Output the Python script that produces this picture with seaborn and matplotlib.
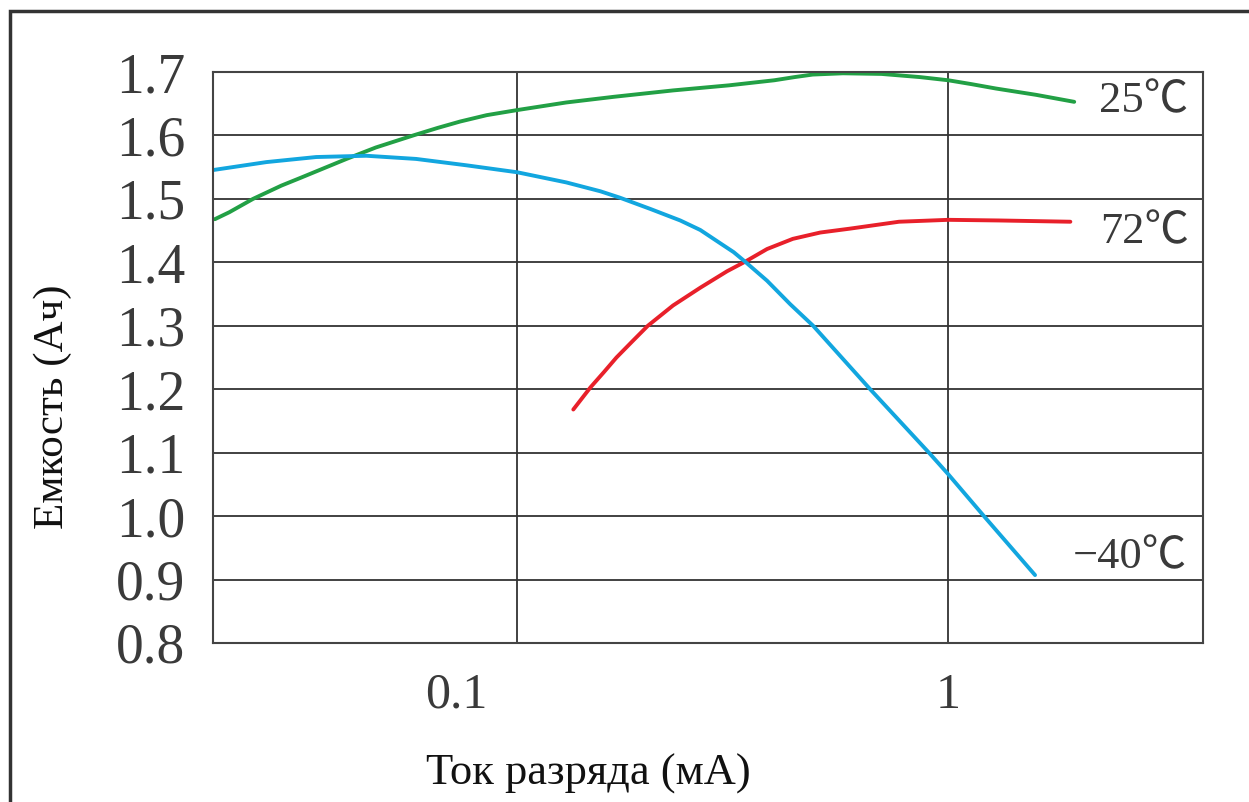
import numpy as np
import pandas as pd
import matplotlib
matplotlib.use('Agg')
import matplotlib.pyplot as plt
import matplotlib.transforms as mtransforms
from matplotlib.patches import Rectangle
import seaborn as sns

# curve values (x = discharge current, mA; y = capacity, Ah)
x_25 = [0.0199, 0.0215, 0.0244, 0.0284, 0.0314, 0.0402, 0.047, 0.0574, 0.0655, 0.0738, 0.085, 0.1, 0.13,
        0.168, 0.23, 0.31, 0.395, 0.44, 0.485, 0.57, 0.7, 0.86, 1.0, 1.13, 1.29, 1.6, 1.96]
y_25 = [1.468, 1.479, 1.5, 1.521, 1.533, 1.563, 1.581, 1.6, 1.612, 1.622, 1.632, 1.640, 1.652,
        1.661, 1.671, 1.679, 1.687, 1.692, 1.696, 1.698, 1.697, 1.692, 1.687, 1.681, 1.674, 1.664, 1.653]

x_72 = [0.135, 0.148, 0.159, 0.170, 0.186, 0.201, 0.230, 0.266, 0.307, 0.338, 0.380, 0.436,
        0.505, 0.59, 0.769, 1.0, 1.31, 1.92]
y_72 = [1.168, 1.203, 1.227, 1.25, 1.277, 1.3, 1.332, 1.360, 1.386, 1.401, 1.421, 1.437,
        1.447, 1.453, 1.464, 1.467, 1.466, 1.464]

x_m40 = [0.0195, 0.0262, 0.0342, 0.0447, 0.0583, 0.0762, 0.1, 0.130, 0.156, 0.173, 0.204, 0.239, 0.266,
         0.296, 0.318, 0.338, 0.380, 0.430, 0.486, 0.659, 0.902, 1.0, 1.21, 1.59]
y_m40 = [1.545, 1.558, 1.566, 1.568, 1.563, 1.553, 1.542, 1.526, 1.512, 1.502, 1.484, 1.466, 1.451,
         1.430, 1.416, 1.401, 1.371, 1.334, 1.3, 1.2, 1.1, 1.066, 1.0, 0.907]

series_names = ['25℃', '72℃', '−40℃']
series_colors = ['#22a045', '#e8202a', '#12a6df']
label_x = [2.24, 2.25, 1.94]
label_y = [1.654, 1.448, 0.935]

y_ticks = [0.8, 0.9, 1.0, 1.1, 1.2, 1.3, 1.4, 1.5, 1.6, 1.7]
x_ticks = [0.1, 1]
x_tick_labels = ['0.1', '1']

df = pd.concat([
    pd.DataFrame({'x': x_25, 'y': y_25, 'temp': series_names[0]}),
    pd.DataFrame({'x': x_72, 'y': y_72, 'temp': series_names[1]}),
    pd.DataFrame({'x': x_m40, 'y': y_m40, 'temp': series_names[2]}),
])

sns.set_style('white')
plt.rcParams['font.family'] = ['Liberation Serif', 'Noto Sans CJK JP', 'DejaVu Sans']

fig = plt.figure(figsize=(12.49, 8.02), dpi=100)
ax = fig.add_axes([0.1705, 0.1983, 0.7927, 0.7119])

sns.lineplot(data=df, x='x', y='y', hue='temp', palette=dict(zip(series_names, series_colors)),
             estimator=None, sort=False, linewidth=2.8, legend=False, ax=ax,
             solid_joinstyle='round', solid_capstyle='round')

ax.set_xscale('log')
ax.set_xlim(0.0197, 3.9)
ax.set_ylim(0.8, 1.7)
ax.set_yticks(y_ticks)
ax.set_yticklabels([f'{v:.1f}' for v in y_ticks], fontsize=40, color='#3a3a3a')
ax.set_xticks(x_ticks)
ax.set_xticklabels(x_tick_labels, fontsize=36, color='#3a3a3a')
ax.minorticks_off()
ax.tick_params(axis='y', length=0, pad=20)
ax.tick_params(axis='x', length=0, pad=21)
# the "0.1" label sits left of its gridline in the reference
shift = mtransforms.ScaledTranslation(-61 / 100, 0, fig.dpi_scale_trans)
lbl = ax.get_xticklabels()[0]
lbl.set_transform(lbl.get_transform() + shift)

ax.grid(True, color='#333333', linewidth=1.3)
for s in ax.spines.values():
    s.set_color('#444444')
    s.set_linewidth(1.5)
ax.set_xlabel('')
ax.set_ylabel('')

for name, lx, ly in zip(series_names, label_x, label_y):
    ax.text(lx, ly, name, fontsize=32, color='#3a3a3a', ha='left', va='center')

fig.text(0.4708, 0.0212, 'Ток разряда (мА)', fontsize=32, ha='center', va='baseline', color='#111111')
fig.text(0.042, 0.4925, 'Емкость (Ач)', fontsize=31, rotation=90, ha='center', va='center', color='#111111')

# outer frame (cut off at right and bottom in the reference)
fig.patches.append(Rectangle((10 / 1249, -0.2), 1.5, 1.2 - 11 / 802, transform=fig.transFigure,
                             fill=False, edgecolor='#333333', linewidth=2.5))

fig.savefig('out.png', dpi=100)
